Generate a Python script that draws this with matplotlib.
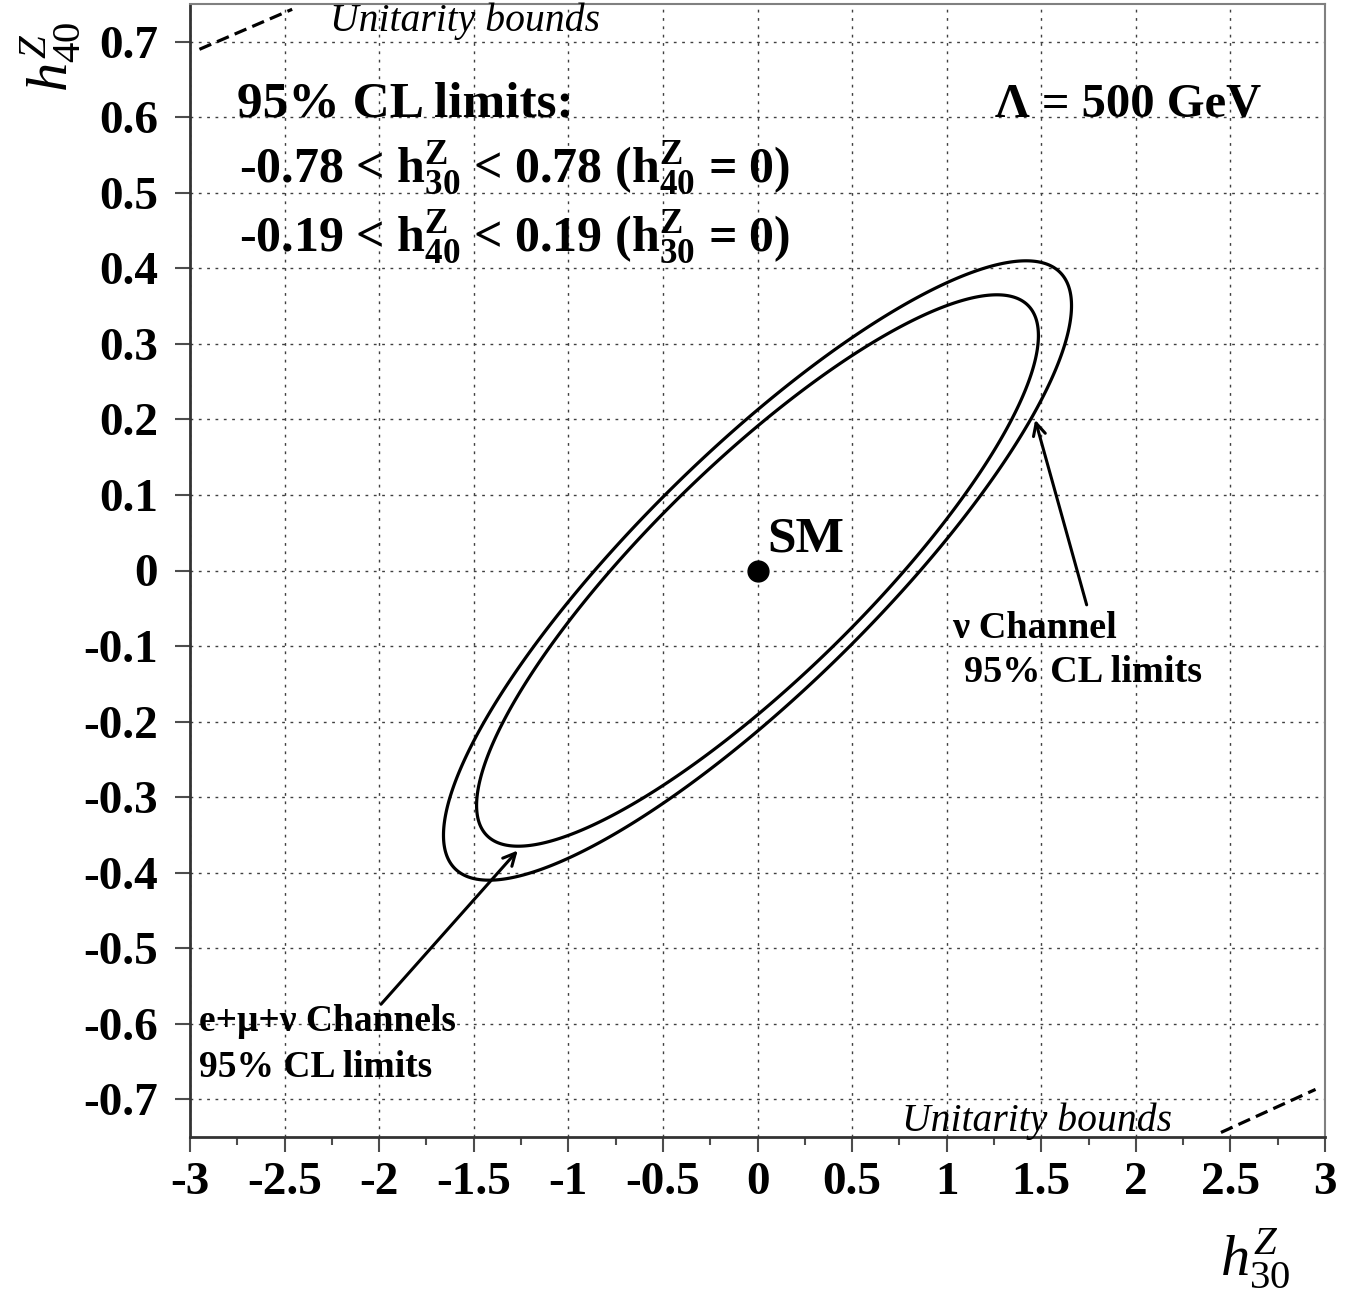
import numpy as np
import matplotlib
matplotlib.use("Agg")
import matplotlib.pyplot as plt

plt.rcParams['font.family'] = ['Liberation Serif', 'DejaVu Serif']
plt.rcParams['mathtext.fontset'] = 'custom'
plt.rcParams['mathtext.rm'] = 'Liberation Serif'
plt.rcParams['mathtext.it'] = 'Liberation Serif:italic'
plt.rcParams['mathtext.bf'] = 'Liberation Serif:bold'

# ---- data ----
contour_names = ["e+mu+nu channels", "nu channel"]
sigma_h30 = [1.485, 1.66]     # half-width of 95% CL contour in h30
sigma_h40 = [0.365, 0.41]     # half-height of 95% CL contour in h40
rho = [0.852, 0.855]          # correlation
sm_point = (0.0, 0.0)
unitarity_top = ([-2.95, -2.46], [0.690, 0.743])
unitarity_bottom = ([2.45, 2.95], [-0.744, -0.687])
xticks = [-3, -2.5, -2, -1.5, -1, -0.5, 0, 0.5, 1, 1.5, 2, 2.5, 3]
xticklabels = ["-3", "-2.5", "-2", "-1.5", "-1", "-0.5", "0", "0.5", "1", "1.5", "2", "2.5", "3"]
yticks = [-0.7, -0.6, -0.5, -0.4, -0.3, -0.2, -0.1, 0, 0.1, 0.2, 0.3, 0.4, 0.5, 0.6, 0.7]
yticklabels = ["-0.7", "-0.6", "-0.5", "-0.4", "-0.3", "-0.2", "-0.1", "0",
               "0.1", "0.2", "0.3", "0.4", "0.5", "0.6", "0.7"]

W, H = 1364, 1291
fig = plt.figure(figsize=(W / 100, H / 100), dpi=100)
ax = fig.add_axes([190 / W, 1 - 1137 / H, (1325 - 190) / W, (1137 - 4) / H])
ax.set_xlim(-3, 3)
ax.set_ylim(-0.75, 0.75)

# grid
ax.set_xticks(xticks)
ax.set_yticks(yticks)
ax.grid(True, which='major', color='0.25', linestyle=(0, (2, 4)), linewidth=1.0)
ax.set_axisbelow(True)
ax.set_xticks(np.arange(-3, 3.01, 0.25), minor=True)
ax.set_xticklabels(xticklabels, fontsize=34, fontweight='bold')
ax.set_yticklabels(yticklabels, fontsize=34, fontweight='bold')
ax.tick_params(axis='x', which='major', direction='out', length=11, width=1.5, pad=7, color='0.3')
ax.tick_params(axis='x', which='minor', direction='out', length=6, width=1.5, color='0.3')
ax.tick_params(axis='y', which='major', direction='out', length=11, width=1.5, pad=12, color='0.3')
for s in ['left', 'bottom']:
    ax.spines[s].set_linewidth(2)
    ax.spines[s].set_color('0.2')
for s in ['top', 'right']:
    ax.spines[s].set_linewidth(1.5)
    ax.spines[s].set_color('0.5')

# contours
gx = np.linspace(-3, 3, 801)
gy = np.linspace(-0.75, 0.75, 801)
X, Y = np.meshgrid(gx, gy)
for sx, sy, r in zip(sigma_h30, sigma_h40, rho):
    chi2 = (X**2 / sx**2 - 2 * r * X * Y / (sx * sy) + Y**2 / sy**2) / (1 - r**2)
    ax.contour(X, Y, chi2, levels=[1.0], colors='black', linewidths=2.3)

# SM point
ax.plot([sm_point[0]], [sm_point[1]], 'o', color='black', markersize=15)
ax.text(0.05, 0.025, "SM", fontsize=37, fontweight='bold')

# unitarity bounds
ax.plot(*unitarity_top, color='black', linestyle=(0, (4, 2)), linewidth=2.3)
ax.plot(*unitarity_bottom, color='black', linestyle=(0, (4, 2)), linewidth=2.3)
ax.text(-2.26, 0.714, "Unitarity bounds", fontsize=28.5, style='italic')
ax.text(0.766, -0.742, "Unitarity bounds", fontsize=28.5, style='italic')

# headline texts
ax.text(-2.75, 0.601, "95% CL limits:", fontsize=37, fontweight='bold')
ax.text(-2.74, 0.514, r"-0.78 < h$^{\mathbf{Z}}_{\mathbf{30}}$ < 0.78 (h$^{\mathbf{Z}}_{\mathbf{40}}$ = 0)",
        fontsize=36, fontweight='bold')
ax.text(-2.74, 0.4225, r"-0.19 < h$^{\mathbf{Z}}_{\mathbf{40}}$ < 0.19 (h$^{\mathbf{Z}}_{\mathbf{30}}$ = 0)",
        fontsize=36, fontweight='bold')
ax.text(2.66, 0.601, "Λ = 500 GeV", fontsize=35, fontweight='bold', ha='right')

# channel annotations
ax.annotate("", xy=(1.464, 0.203), xytext=(1.744, -0.049),
            arrowprops=dict(arrowstyle='->', color='black', lw=2.2, mutation_scale=22))
ax.text(1.03, -0.089, "ν Channel", fontsize=27.5, fontweight='bold')
ax.text(1.09, -0.148, "95% CL limits", fontsize=27.5, fontweight='bold')

ax.annotate("", xy=(-1.258, -0.368), xytext=(-2.0, -0.577),
            arrowprops=dict(arrowstyle='->', color='black', lw=2.2, mutation_scale=22))
ax.text(-2.95, -0.61, "e+μ+ν Channels", fontsize=27, fontweight='bold')
ax.text(-2.95, -0.67, "95% CL limits", fontsize=27, fontweight='bold')

# axis titles
fig.text(1290 / W, 1 - 1275 / H, r"$h^{Z}_{30}$", fontsize=42, ha='right', va='baseline')
fig.text(50 / W, 1 - 57 / H, r"$h^{Z}_{40}$", fontsize=42, ha='center', va='center', rotation=90)

fig.savefig("out.png", dpi=100)
